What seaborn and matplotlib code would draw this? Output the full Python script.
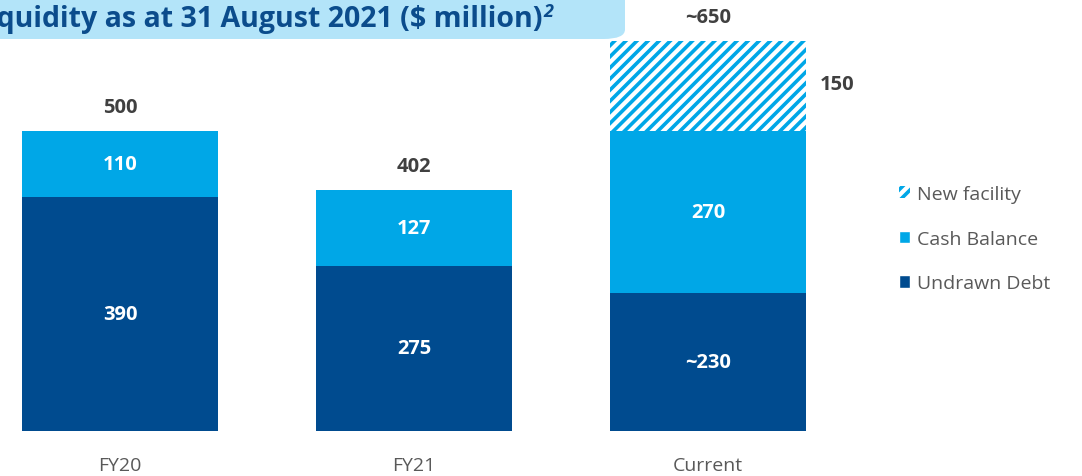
import matplotlib
matplotlib.use("Agg")
import matplotlib.pyplot as plt
import seaborn as sns
import pandas as pd
from matplotlib.patches import FancyBboxPatch, Patch

sns.set_style("white")
plt.rcParams['font.family'] = ['Open Sans', 'DejaVu Sans']
plt.rcParams['hatch.linewidth'] = 2.6

periods = ["FY20", "FY21", "Current"]
undrawn_debt = [390, 275, 230]
cash_balance = [110, 127, 270]
new_facility = [0, 0, 150]
total_labels = ["500", "402", "~650"]
undrawn_labels = ["390", "275", "~230"]
cash_labels = ["110", "127", "270"]

dark_blue = "#004b8f"
light_blue = "#00a7e7"
grey_txt = "#404040"

df = pd.DataFrame({
    "period": periods,
    "undrawn": undrawn_debt,
    "cash": [u + c for u, c in zip(undrawn_debt, cash_balance)],
})
df["total"] = df["cash"] + new_facility

fig = plt.figure(figsize=(10.82, 4.77), dpi=100)
ax = fig.add_axes([0, 45 / 477, 1, 432 / 477])

# stacked bars: draw cumulative sums from the top layer down
w = 196 / 294
sns.barplot(data=df, x="period", y="total", ax=ax, color="white", width=w,
            edgecolor=light_blue, linewidth=0, hatch="///", saturation=1)
sns.barplot(data=df, x="period", y="cash", ax=ax, color=light_blue, width=w,
            linewidth=0, saturation=1)
sns.barplot(data=df, x="period", y="undrawn", ax=ax, color=dark_blue, width=w,
            linewidth=0, saturation=1)

ax.set_xlim(-120 / 294, (1082 - 120) / 294)
ax.set_ylim(0, 720)
ax.set_xlabel("")
ax.set_ylabel("")
ax.set_yticks([])
sns.despine(ax=ax, left=True, bottom=True)
ax.tick_params(axis="x", length=0, pad=18, labelsize=14, labelcolor="#595959")

lab = dict(ha="center", va="center", fontsize=14.5, fontweight="bold")
for i in range(len(periods)):
    u = undrawn_debt[i]
    c = cash_balance[i]
    n = new_facility[i]
    ax.text(i, u / 2, undrawn_labels[i], color="white", **lab)
    ax.text(i, u + c / 2, cash_labels[i], color="white", **lab)
    ax.text(i, u + c + n + 40, total_labels[i], color=grey_txt, **lab)
    if n:
        ax.text(i + 0.44, u + c + n / 2 + 4, str(n), color=grey_txt, **lab)

handles = [
    Patch(facecolor="white", edgecolor=light_blue, linewidth=0, hatch="///", label="New facility"),
    Patch(facecolor=light_blue, label="Cash Balance"),
    Patch(facecolor=dark_blue, label="Undrawn Debt"),
]
fig.legend(handles=handles, loc="upper left", bbox_to_anchor=(889 / 1082, 1 - 176 / 477),
           frameon=False, fontsize=14, labelcolor="#595959", handlelength=0.6,
           handleheight=0.6, handletextpad=0.35, labelspacing=1.38, borderpad=0)

# title banner, cut off at the left edge
fig.patches.append(FancyBboxPatch((-20 / 1082, 1 - 40 / 477), 645 / 1082, 60 / 477,
                                  boxstyle="round,pad=0,rounding_size=0.02",
                                  transform=fig.transFigure, facecolor="#b3e4f9",
                                  edgecolor="none", zorder=0))
title = fig.text(-28 / 1082, 1 - 19 / 477, "Liquidity as at 31 August 2021 (\\$ million)",
                 ha="left", va="center", fontsize=20.5, fontweight="bold", color="#0b4c8c")
sup = fig.text(0, 1, "2", fontsize=13, fontweight="bold", style="italic",
               color="#0b4c8c", va="center")
fig.canvas.draw()
bb = title.get_window_extent().transformed(fig.transFigure.inverted())
sup.set_position((bb.x1 + 1 / 1082, 1 - 12 / 477))

fig.savefig("out.png", dpi=100)
